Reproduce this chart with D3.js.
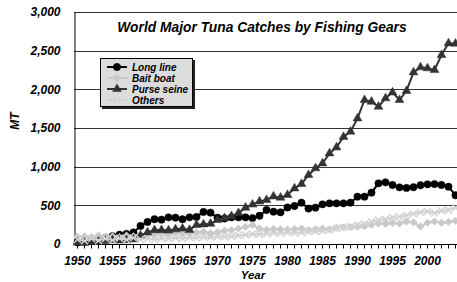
<!DOCTYPE html>
<html><head><meta charset="utf-8">
<script src="https://cdn.jsdelivr.net/npm/d3@7"></script>
<style>
html,body{margin:0;padding:0;background:#fff;}
svg{display:block;font-family:"Liberation Sans",Arial,sans-serif;}
</style></head>
<body>
<script>
const years = d3.range(1950, 2005);
const longLine = [20,30,40,60,80,100,120,130,150,233,285,320,315,345,340,320,345,350,415,405,340,330,345,345,345,335,365,440,418,410,472,491,534,458,470,513,526,526,526,534,612,612,664,785,798,763,733,725,735,760,772,775,763,741,630];
const baitBoat = [95,100,90,110,95,100,90,110,100,120,110,130,140,130,150,140,145,150,160,140,155,170,180,200,220,245,200,185,195,190,185,195,200,180,190,200,190,210,215,220,225,230,250,265,260,270,265,290,280,225,275,290,275,285,300];
const purseSeine = [20,15,25,30,40,50,45,50,60,110,150,180,180,175,190,200,182,246,254,262,310,335,360,400,470,510,550,569,615,600,634,720,776,892,979,1043,1172,1250,1385,1453,1625,1862,1840,1776,1884,1960,1862,1980,2220,2285,2272,2250,2444,2595,2590];
const others = [60,40,70,45,70,50,75,55,80,60,70,60,75,70,80,70,85,80,90,85,95,90,100,110,120,130,125,135,140,140,150,145,150,160,165,170,180,200,215,225,245,260,285,310,320,345,350,370,390,410,420,400,430,440,470];
const yTicks = [0,500,1000,1500,2000,2500,3000];
const xLabelYears = [1950,1955,1960,1965,1970,1975,1980,1985,1990,1995,2000];
const seriesNames = ["Long line","Bait boat","Purse seine","Others"];

const W = 457, H = 282;
const m = {left:74, top:12, right:-2, bottom:38};
const svg = d3.select("body").append("svg").attr("width", W).attr("height", H);

const x = d3.scaleBand().domain(years).range([m.left, W - m.right]);
const y = d3.scaleLinear().domain([0, 3000]).range([H - m.bottom, m.top]);
const cx = d => x(d) + x.bandwidth()/2;

// gridlines
svg.append("g").selectAll("line").data(yTicks.slice(1)).join("line")
  .attr("x1", m.left).attr("x2", W)
  .attr("y1", d => Math.round(y(d)) + 0.5).attr("y2", d => Math.round(y(d)) + 0.5)
  .attr("stroke", "#333").attr("stroke-width", 1);

// y axis
const yAxis = d3.axisLeft(y).tickValues(yTicks).tickSize(0).tickPadding(14).tickFormat(d3.format(","));
const gy = svg.append("g").attr("transform", `translate(${m.left + 0.5},0)`).call(yAxis);
gy.select(".domain").attr("stroke", "#000");
gy.selectAll("text").attr("font-size", 12).attr("font-weight", "bold").attr("font-style", "italic").attr("fill", "#000");

// x axis
const xAxis = d3.axisBottom(x).tickSize(4).tickFormat(d => xLabelYears.includes(d) ? d : "");
const gx = svg.append("g").attr("transform", `translate(0,${Math.round(y(0)) + 0.5})`).call(xAxis);
gx.select(".domain").attr("stroke", "#000").attr("d", `M${m.left},0H${W}`);
gx.selectAll(".tick line").attr("stroke", "#000");
gx.selectAll("text").attr("font-size", 12).attr("font-weight", "bold").attr("font-style", "italic").attr("fill", "#000").attr("dy", "1.1em");

// axis titles
svg.append("text").attr("x", 253).attr("y", 279).attr("text-anchor", "middle")
  .attr("font-size", 11.5).attr("font-weight", "bold").attr("font-style", "italic").text("Year");
svg.append("text").attr("transform", "translate(19,121) rotate(-90)").attr("text-anchor", "middle")
  .attr("font-size", 12).attr("font-weight", "bold").attr("font-style", "italic").text("MT");

// chart title
svg.append("text").attr("x", 262).attr("y", 32).attr("text-anchor", "middle")
  .attr("font-size", 13.8).attr("font-weight", "bold").attr("font-style", "italic").text("World Major Tuna Catches by Fishing Gears");

const series = [
  {name: seriesNames[0], values: longLine, color: "#000", marker: "circle"},
  {name: seriesNames[1], values: baitBoat, color: "#c8c8c8", marker: "diamond"},
  {name: seriesNames[2], values: purseSeine, color: "#333", marker: "triangle"},
  {name: seriesNames[3], values: others, color: "#d2d2d2", marker: "x"}
];
const sym = {
  circle: d3.symbol(d3.symbolCircle, 42),
  diamond: d3.symbol(d3.symbolSquare, 28),
  triangle: d3.symbol(d3.symbolTriangle, 34),
  x: d3.symbol(d3.symbolX, 32)
};
function drawMarker(g, s) {
  const p = g.append("path").attr("d", sym[s.marker]());
  if (s.marker === "x") p.attr("fill", "none").attr("stroke", s.color).attr("stroke-width", 1.5);
  else p.attr("fill", s.color).attr("stroke", s.color).attr("stroke-width", 0.5);
  if (s.marker === "diamond") p.attr("transform", "rotate(45)");
  return p;
}

const line = d3.line().x((d, i) => cx(years[i])).y(d => y(d));
series.forEach(s => {
  const g = svg.append("g");
  g.append("path").datum(s.values).attr("d", line).attr("fill", "none")
    .attr("stroke", s.color).attr("stroke-width", 2);
  s.values.forEach((v, i) => {
    const mg = g.append("g").attr("transform", `translate(${cx(years[i])},${y(v)})`);
    drawMarker(mg, s);
  });
});

// legend
const lg = svg.append("g").attr("transform", "translate(100,58)");
lg.append("rect").attr("x", 2).attr("y", 2).attr("width", 93).attr("height", 49).attr("fill", "#222");
lg.append("rect").attr("x", 0.5).attr("y", 0.5).attr("width", 92).attr("height", 48).attr("fill", "#dcdcdc").attr("stroke", "#000");
series.forEach((s, i) => {
  const yy = 9 + i * 11;
  const row = lg.append("g").attr("transform", `translate(0,${yy})`);
  row.append("line").attr("x1", 7).attr("x2", 27).attr("y1", 0).attr("y2", 0).attr("stroke", s.color).attr("stroke-width", 2);
  const mg = row.append("g").attr("transform", "translate(17,0)");
  drawMarker(mg, s);
  row.append("text").attr("x", 32).attr("y", 3.5).attr("font-size", 10).attr("font-weight", "bold")
    .attr("font-style", "italic").attr("fill", "#000").text(s.name);
});
</script>
</body></html>
